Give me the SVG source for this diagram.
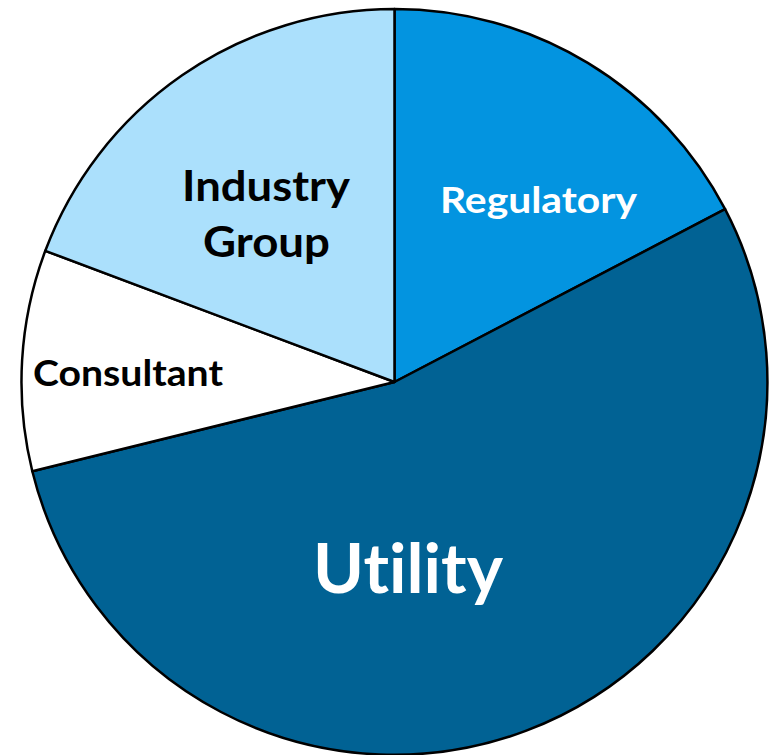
<svg xmlns="http://www.w3.org/2000/svg" width="777" height="755" viewBox="0 0 777 755">
<style>
.slice{stroke:#000;stroke-width:2.5;stroke-linejoin:round}
.lbl{font-family:Lato,"Open Sans","Liberation Sans",sans-serif;font-weight:700;font-variant-ligatures:none;font-feature-settings:"liga" 0,"clig" 0}
</style>
<rect width="777" height="755" fill="#fff"/>
<g id="regulatory">
<path class="slice" fill="#0394E0" d="M394.5,382 L394.5,9 A373,373 0 0 1 725.1,209.2 Z"/>
<text class="lbl" x="440" y="213" font-size="36" fill="#fff" textLength="197" lengthAdjust="spacingAndGlyphs">Regulatory</text>
</g>
<g id="utility">
<path class="slice" fill="#016294" d="M394.5,382 L725.1,209.2 A373,373 0 1 1 32.3,471.2 Z"/>
<text class="lbl" x="313" y="593" font-size="68" fill="#fff" textLength="190" lengthAdjust="spacingAndGlyphs">Utility</text>
</g>
<g id="consultant">
<path class="slice" fill="#fff" d="M394.5,382 L32.3,471.2 A373,373 0 0 1 45.3,250.8 Z"/>
<text class="lbl" x="33" y="386" font-size="36" fill="#000" textLength="190" lengthAdjust="spacingAndGlyphs">Consultant</text>
</g>
<g id="industry-group">
<path class="slice" fill="#ABE0FC" d="M394.5,382 L45.3,250.8 A373,373 0 0 1 394.5,9 Z"/>
<text class="lbl" x="182" y="201" font-size="42" fill="#000" textLength="168" lengthAdjust="spacingAndGlyphs">Industry</text>
<text class="lbl" x="203" y="257" font-size="42" fill="#000" textLength="127" lengthAdjust="spacingAndGlyphs">Group</text>
</g>
</svg>
